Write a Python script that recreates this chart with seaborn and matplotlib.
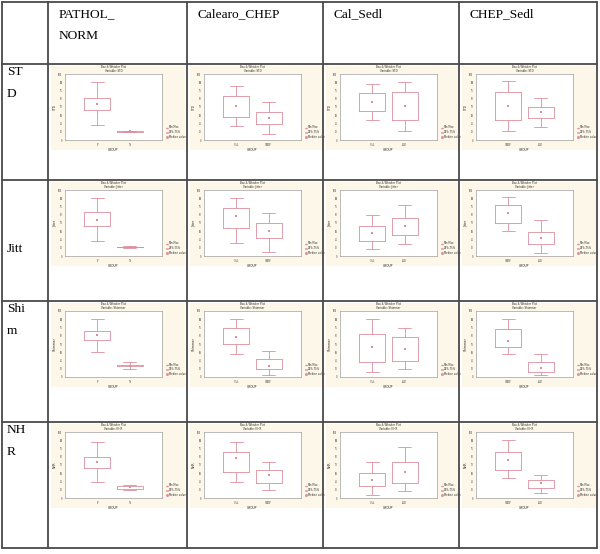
import numpy as np
import pandas as pd
import matplotlib
matplotlib.use("Agg")
import matplotlib.pyplot as plt
from matplotlib.lines import Line2D
from matplotlib.patches import Rectangle, Patch
import seaborn as sns

sns.set_theme(style="white")
plt.rcParams['font.family'] = ['Liberation Serif', 'DejaVu Serif']

# ---- data -------------------------------------------------------------
col_labels = ["PATHOL_\nNORM", "Calearo_CHEP", "Cal_Sedl", "CHEP_Sedl"]
row_labels = ["ST\nD", "Jitt", "Shi\nm", "NH\nR"]
row_vars = ["STD", "Jitter", "Shimmer", "NHR"]
group_ticks = [["P", "N"], ["CAL", "CHEP"], ["CAL", "SED"], ["CHEP", "SED"]]

# five-number summaries (min, q1, median, q3, max) per cell, first group then second
std_stats = [
    [[22, 45, 55, 63, 88], [12, 12.5, 13, 13.5, 14]],
    [[21, 35, 51, 66, 82], [9, 25, 33, 42, 58]],
    [[30, 44, 57, 71, 85], [14, 30, 51, 73, 88]],
    [[14, 30, 51, 72, 89], [20, 33, 42, 50, 63]],
]
jitt_stats = [
    [[22, 45, 55, 66, 88], [12.5, 13, 13.5, 14, 15]],
    [[20, 42, 60, 72, 88], [6, 27, 38, 50, 65]],
    [[10, 22, 35, 45, 62], [18, 32, 45, 58, 78]],
    [[38, 50, 65, 78, 90], [5, 18, 28, 37, 55]],
]
shim_stats = [
    [[38, 56, 63, 69, 88], [12, 16, 17, 18, 23]],
    [[35, 50, 60, 75, 88], [3, 12, 17, 28, 40]],
    [[8, 22, 45, 65, 88], [12, 25, 42, 60, 75]],
    [[35, 45, 55, 72, 88], [3, 8, 14, 22, 35]],
]
nhr_stats = [
    [[25, 45, 55, 62, 85], [12, 14, 16, 18, 20]],
    [[25, 40, 60, 70, 85], [12, 22, 35, 42, 55]],
    [[5, 18, 28, 38, 55], [10, 22, 40, 55, 78]],
    [[30, 42, 58, 70, 88], [8, 15, 22, 27, 35]],
]
all_stats = [std_stats, jitt_stats, shim_stats, nhr_stats]

# ---- layout -----------------------------------------------------------
W, H = 600, 554
fig = plt.figure(figsize=(W / 100, H / 100), dpi=100)
fig.patch.set_facecolor("white")

def fx(x):
    return x / W

def fy(y):
    return 1 - y / H

col_x = [2, 48, 187, 323, 459, 597]
row_y = [2, 64, 180, 301, 422, 548]

line_kw = dict(color="#4a4a4a", linewidth=1.3, transform=fig.transFigure)
for x in col_x:
    fig.add_artist(Line2D([fx(x), fx(x)], [fy(row_y[0]), fy(row_y[-1])], **line_kw))
for y in row_y:
    fig.add_artist(Line2D([fx(col_x[0]), fx(col_x[-1])], [fy(y), fy(y)], **line_kw))

txt_kw = dict(fontsize=9.6, color="black", va="top", ha="left", linespacing=2.1)
for j, lab in enumerate(col_labels):
    fig.text(fx(col_x[j + 1] + 11), fy(row_y[0] + 6), lab, **txt_kw)
for i, lab in enumerate(row_labels):
    y0 = row_y[i + 1]
    if lab == "Jitt":
        fig.text(fx(col_x[0] + 5), fy(y0 + 63), lab, **txt_kw)
    else:
        fig.text(fx(col_x[0] + 5), fy(y0 + 2), lab, **txt_kw)

pink = "#dc8f9c"
cream = "#fcf7e8"

for i in range(4):
    for j in range(4):
        cl = col_x[j + 1]
        rt = row_y[i + 1]
        # cream image background
        fig.add_artist(Rectangle((fx(cl + 3), fy(rt + 86)), 134 / W, 84 / H,
                                 transform=fig.transFigure, facecolor=cream,
                                 edgecolor="none", zorder=0))
        ax = fig.add_axes([fx(cl + 17), fy(rt + 76), 97 / W, 66 / H])
        ax.set_facecolor("white")
        stats = all_stats[i][j]
        names = group_ticks[j]
        df = pd.DataFrame({
            "GROUP": [names[0]] * 5 + [names[1]] * 5,
            "v": list(stats[0]) + list(stats[1]),
        })
        med = pd.DataFrame({"GROUP": names, "v": [stats[0][2], stats[1][2]]})
        sns.boxplot(data=df, x="GROUP", y="v", ax=ax, whis=(0, 100), width=0.8,
                    fill=False, color=pink, linewidth=0.6,
                    medianprops=dict(linewidth=0))
        sns.stripplot(data=med, x="GROUP", y="v", ax=ax, jitter=False,
                      marker="s", size=1.3, color=pink, linewidth=0)
        ax.set_xlim(-1, 2)
        ax.set_ylim(0, 100)
        ax.set_yticks(np.linspace(0, 100, 9))
        ax.set_yticklabels([f"{t:.0f}" for t in np.linspace(0, 100, 9)])
        ax.tick_params(labelsize=2, length=1, width=0.3, pad=1, colors="#333333")
        ax.set_xlabel("GROUP", fontsize=2.2, labelpad=1, family="DejaVu Sans")
        ax.set_ylabel(row_vars[i], fontsize=2.2, labelpad=1, family="DejaVu Sans")
        for s in ax.spines.values():
            s.set_linewidth(0.4)
            s.set_color("#888888")
        ax.set_title(f"Box & Whisker Plot\nVariable: {row_vars[i]}", fontsize=1.9,
                     pad=1.2, family="DejaVu Sans", linespacing=1.2)
        handles = [Line2D([], [], color=pink, lw=0.5, marker="_", markersize=2),
                   Patch(facecolor="none", edgecolor=pink, linewidth=0.5),
                   Line2D([], [], color=pink, lw=0, marker="s", markersize=1)]
        ax.legend(handles, ["Min-Max", "25%-75%", "Median value"],
                  loc="lower left", bbox_to_anchor=(1.03, 0.0), frameon=False,
                  handlelength=0.8, handleheight=0.6,
                  borderaxespad=0, labelspacing=0.3, handletextpad=0.3,
                  prop=dict(family="DejaVu Sans", size=1.8))

fig.savefig("out.png", dpi=100, facecolor="white")
